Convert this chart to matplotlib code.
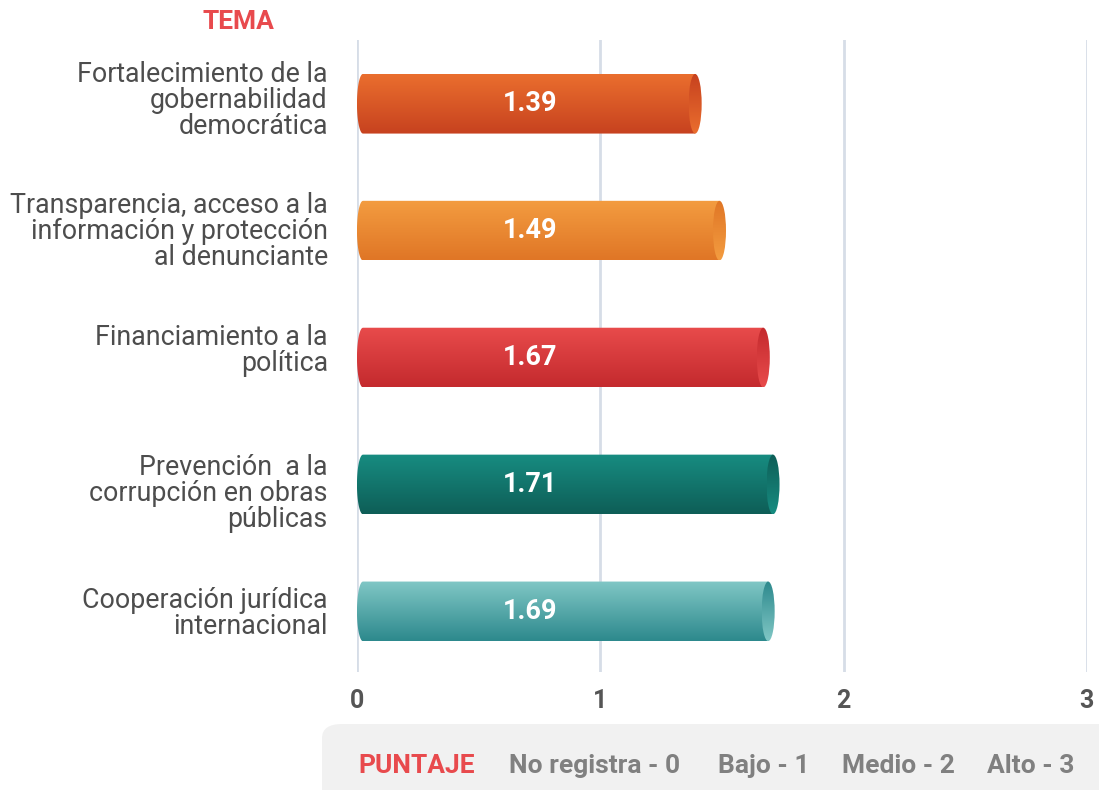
import numpy as np
import matplotlib
matplotlib.use("Agg")
import matplotlib.pyplot as plt
import matplotlib.transforms as mtransforms
from matplotlib.patches import Ellipse, Polygon, FancyBboxPatch
from matplotlib.colors import to_rgb

plt.rcParams['font.family'] = ['Roboto', 'DejaVu Sans']

# =========================================================
# DATA
# =========================================================

temas = [
    "Fortalecimiento de la\ngobernabilidad\ndemocrática",
    "Transparencia, acceso a la\ninformación y protección\nal denunciante",
    "Financiamiento a la\npolítica",
    "Prevención  a la\ncorrupción en obras\npúblicas",
    "Cooperación jurídica\ninternacional",
]
puntajes = [1.39, 1.49, 1.67, 1.71, 1.69]

# top / bottom colours of each cylinder
color_top = ["#EA6E2E", "#F39C40", "#E84B4B", "#178C81", "#80C7C5"]
color_bottom = ["#C7421F", "#E07626", "#C42A2E", "#0E5E57", "#2D898D"]

leyenda = ["No registra - 0", "Bajo - 1", "Medio - 2", "Alto - 3"]
ticks_x = [0, 1, 2, 3]

# =========================================================
# FIGURE
# =========================================================

fig = plt.figure(figsize=(10.99, 7.90), dpi=100)
ax = fig.add_axes([0.3248, 0.149, 0.6642, 0.8])

for s in ax.spines.values():
    s.set_visible(False)

for t in ticks_x:
    ax.axvline(t, color="#D6DDE7", lw=2, zorder=0)

bar_h = 0.47
px_per_unit = 243.3
cap_w = 13 / px_per_unit
left_r = 6 / px_per_unit
label_x = 0.71   # value labels all sit at the same x


def gradient(c1, c2, n=64):
    a = np.array(to_rgb(c1))
    b = np.array(to_rgb(c2))
    t = np.linspace(0, 1, n)[:, None]
    return (a + (b - a) * t)[:, None, :]


for i, (v, c1, c2) in enumerate(zip(puntajes, color_top, color_bottom)):
    y0 = i - bar_h / 2
    y1 = i + bar_h / 2
    xc = v

    # body shape: rounded left end
    ang = np.linspace(np.pi / 2, 3 * np.pi / 2, 30)
    left_pts = np.column_stack([left_r + left_r * np.cos(ang),
                                i - (bar_h / 2) * np.sin(ang)])
    pts = np.vstack([left_pts, [[xc, y1], [xc, y0]]])
    body = Polygon(pts, closed=True, facecolor="none", edgecolor="none")
    ax.add_patch(body)
    im = ax.imshow(gradient(c1, c2), extent=(0, xc, y1, y0),
                   aspect="auto", origin="upper", zorder=2)
    im.set_clip_path(body)

    # end cap
    cap = Ellipse((xc, i), cap_w, bar_h, facecolor="none", edgecolor="none")
    ax.add_patch(cap)
    im2 = ax.imshow(gradient(c2, c1),
                    extent=(xc - cap_w / 2, xc + cap_w / 2, y1, y0),
                    aspect="auto", origin="upper", zorder=3)
    im2.set_clip_path(cap)

    ax.text(label_x, i, f"{v:.2f}", ha="center", va="center",
            color="white", fontsize=19.5, fontweight="bold", zorder=4)

ax.set_xlim(0, 3)
ax.set_ylim(4.48, -0.5)

ax.set_xticks(ticks_x)
ax.set_xticklabels([str(t) for t in ticks_x], fontsize=18,
                   fontweight="bold", color="#555555")
ax.set_yticks(range(len(temas)))
ax.set_yticklabels(temas, fontsize=19.3, color="#4D4D4D",
                   linespacing=0.95)
ax.tick_params(axis="x", length=0, pad=12)
ax.tick_params(axis="y", length=0, pad=21)

# small vertical nudges (points) so the labels sit as in the original
nudge = [4, 1, 7, -5, 0]
for lab, dy in zip(ax.get_yticklabels(), nudge):
    off = mtransforms.ScaledTranslation(0, dy / 72, fig.dpi_scale_trans)
    lab.set_transform(lab.get_transform() + off)

fig.text(0.217, 0.972, "TEMA", ha="center", va="center",
         fontsize=19, fontweight="bold", color="#E84A4D")

# =========================================================
# LEGEND BOX
# =========================================================

box = FancyBboxPatch((0.293, -0.05), 0.75, 0.1335,
                     boxstyle="round,pad=0,rounding_size=0.018",
                     transform=fig.transFigure, facecolor="#F1F1F1",
                     edgecolor="none", zorder=0)
fig.patches.append(box)

fig.text(0.3258, 0.031, "PUNTAJE", ha="left", va="center",
         fontsize=19, fontweight="bold", color="#E84A4D")
leg_x = [0.4631, 0.6533, 0.7661, 0.8981]
for x, t in zip(leg_x, leyenda):
    fig.text(x, 0.031, t, ha="left", va="center",
             fontsize=19, fontweight="bold", color="#808080")

fig.savefig("out.png", dpi=100)
